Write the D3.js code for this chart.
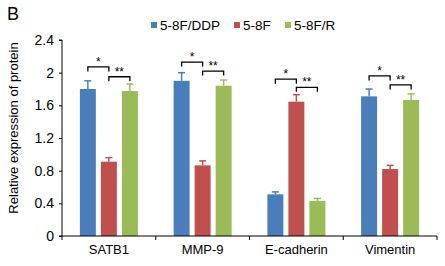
<!DOCTYPE html>
<html>
<head>
<meta charset="utf-8">
<script src="https://cdn.jsdelivr.net/npm/d3@7"></script>
<style>
  body { margin: 0; background: #fff; }
  svg { display: block; font-family: "Liberation Sans", Arial, sans-serif; }
</style>
</head>
<body>
<div id="chart"></div>
<script>
// data
var categories = ["SATB1", "MMP-9", "E-cadherin", "Vimentin"];
var series = ["5-8F/DDP", "5-8F", "5-8F/R"];
var ddpValues = [1.80, 1.90, 0.51, 1.71];
var ddpErrors = [0.10, 0.10, 0.03, 0.09];
var fValues = [0.91, 0.865, 1.645, 0.82];
var fErrors = [0.05, 0.055, 0.085, 0.045];
var rValues = [1.775, 1.84, 0.43, 1.665];
var rErrors = [0.085, 0.07, 0.03, 0.075];
var yTicks = [0, 0.4, 0.8, 1.2, 1.6, 2, 2.4];
// bracket heights (y value) for "*" (DDP vs 5-8F) and "**" (5-8F vs R)
var sigSingle = [2.07, 2.13, 1.92, 1.96];
var sigDouble = [1.95, 2.02, 1.82, 1.85];

var colors = ["#4a7ebb", "#c0504d", "#9bbb59"];
var width = 445, height = 266;
var margin = { top: 40, right: 8, bottom: 30, left: 62 };

var svg = d3.select("#chart").append("svg")
    .attr("width", width)
    .attr("height", height);

var x0 = d3.scaleBand()
    .domain(categories)
    .range([margin.left, width - margin.right])
    .paddingInner(0)
    .paddingOuter(0);
var x1 = d3.scaleBand()
    .domain(series)
    .range([0, x0.bandwidth()])
    .paddingInner(0.24)
    .paddingOuter(0.85);
var y = d3.scaleLinear()
    .domain([0, 2.4])
    .range([height - margin.bottom, margin.top]);

var table = categories.map(function (c, i) {
    return {
        category: c,
        bars: [
            { name: series[0], value: ddpValues[i], err: ddpErrors[i], color: colors[0] },
            { name: series[1], value: fValues[i], err: fErrors[i], color: colors[1] },
            { name: series[2], value: rValues[i], err: rErrors[i], color: colors[2] }
        ]
    };
});

// axes
var yAxis = d3.axisLeft(y)
    .tickValues(yTicks)
    .tickSize(3)
    .tickPadding(5)
    .tickFormat(function (d) { return d === 0 ? "0" : String(+d.toFixed(1)); });
var gy = svg.append("g")
    .attr("transform", "translate(" + margin.left + ",0)")
    .call(yAxis);
gy.select(".domain").attr("d", "M-3," + y(2.4) + "H0V" + y(0) + "H-3");
gy.selectAll("text").style("font-size", "14px").attr("fill", "#000");

var groups = svg.selectAll(".group")
    .data(table)
    .enter().append("g")
    .attr("class", "group")
    .attr("transform", function (d) { return "translate(" + x0(d.category) + ",0)"; });

groups.selectAll("rect")
    .data(function (d) { return d.bars; })
    .enter().append("rect")
    .attr("x", function (d) { return x1(d.name); })
    .attr("width", x1.bandwidth())
    .attr("y", function (d) { return y(d.value); })
    .attr("height", function (d) { return y(0) - y(d.value); })
    .attr("fill", function (d) { return d.color; });

// error bars
var err = groups.selectAll(".err")
    .data(function (d) { return d.bars; })
    .enter().append("g")
    .attr("class", "err")
    .attr("stroke", function (d) { return d.color; })
    .attr("stroke-width", 1.5);
err.append("line")
    .attr("x1", function (d) { return x1(d.name) + x1.bandwidth() / 2; })
    .attr("x2", function (d) { return x1(d.name) + x1.bandwidth() / 2; })
    .attr("y1", function (d) { return y(d.value); })
    .attr("y2", function (d) { return y(d.value + d.err); });
err.append("line")
    .attr("x1", function (d) { return x1(d.name) + x1.bandwidth() / 2 - 3.5; })
    .attr("x2", function (d) { return x1(d.name) + x1.bandwidth() / 2 + 3.5; })
    .attr("y1", function (d) { return y(d.value + d.err); })
    .attr("y2", function (d) { return y(d.value + d.err); });

// x axis over the bars
var xAxis = d3.axisBottom(x0).tickSize(0).tickPadding(9);
var gx = svg.append("g")
    .attr("transform", "translate(0," + y(0) + ")")
    .call(xAxis);
gx.select(".domain").attr("d", "M" + margin.left + ",0H" + (width - margin.right));
gx.selectAll("text").style("font-size", "13px").attr("fill", "#000");
var boundaries = categories.map(function (c) { return x0(c); }).concat([x0.range()[1]]);
gx.selectAll(".bound")
    .data(boundaries)
    .enter().append("line")
    .attr("class", "bound")
    .attr("x1", function (d) { return d; })
    .attr("x2", function (d) { return d; })
    .attr("y1", 0)
    .attr("y2", 4)
    .attr("stroke", "#000");

// significance brackets
function bracket(g, a, b, level, label) {
    var xa = x1(a) + x1.bandwidth() / 2;
    var xb = x1(b) + x1.bandwidth() / 2;
    var yy = y(level);
    g.append("path")
        .attr("d", "M" + xa + "," + (yy + 4.5) + "V" + yy + "H" + xb + "V" + (yy + 4.5))
        .attr("fill", "none")
        .attr("stroke", "#000")
        .attr("stroke-width", 1.3);
    g.append("text")
        .attr("x", (xa + xb) / 2)
        .attr("y", yy - 1)
        .attr("text-anchor", "middle")
        .style("font-size", "12px")
        .text(label);
}
groups.each(function (d, i) {
    var g = d3.select(this);
    bracket(g, series[0], series[1], sigSingle[i], "*");
    bracket(g, series[1], series[2], sigDouble[i], "**");
});

// legend
var legendX = [151, 234, 285];
var legend = svg.selectAll(".legend")
    .data(series)
    .enter().append("g")
    .attr("class", "legend")
    .attr("transform", function (d, i) { return "translate(" + legendX[i] + ",25)"; });
legend.append("rect")
    .attr("x", 0)
    .attr("y", -3)
    .attr("width", 6)
    .attr("height", 6)
    .attr("fill", function (d, i) { return colors[i]; });
legend.append("text")
    .attr("x", 9)
    .attr("dy", "0.35em")
    .style("font-size", "13.5px")
    .text(function (d) { return d; });

// y title
svg.append("text")
    .attr("transform", "translate(18,128) rotate(-90)")
    .attr("text-anchor", "middle")
    .style("font-size", "13px")
    .text("Relative expression of protein");

// panel letter
svg.append("text")
    .attr("x", 7)
    .attr("y", 20)
    .style("font-size", "18px")
    .text("B");
</script>
</body>
</html>
